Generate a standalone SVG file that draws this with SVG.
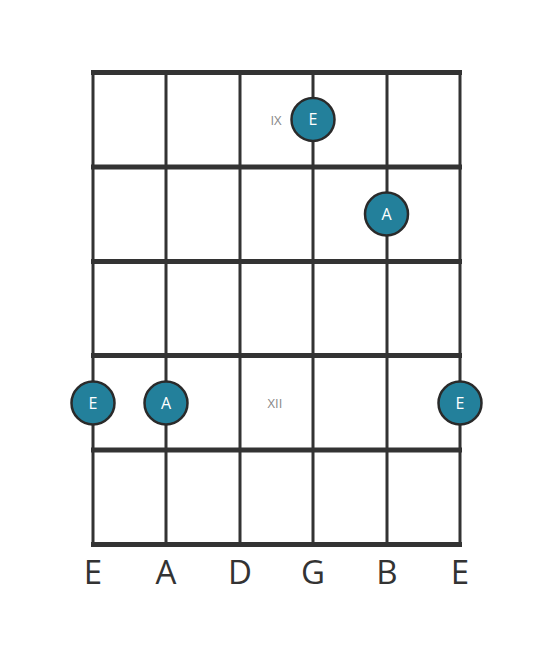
<svg xmlns="http://www.w3.org/2000/svg" width="553" height="656" viewBox="0 0 553 656">
<style>
.fret{stroke:#333;stroke-width:5}
.str{stroke:#333;stroke-width:3}
.dot{fill:#23809b;stroke:#2a2a2a;stroke-width:2.5}
.nl{font-family:"Open Sans",sans-serif;font-size:16px;fill:#ffffff;text-anchor:middle}
.fl{font-family:"Open Sans",sans-serif;font-size:13px;fill:#888;text-anchor:middle}
.sl{font-family:"Open Sans",sans-serif;font-size:33px;fill:#333;text-anchor:middle}
</style>
<rect width="553" height="656" fill="#fff"/>
<g id="connectors">
<line class="str" x1="93" y1="72" x2="93" y2="545"/>
<line class="str" x1="166" y1="72" x2="166" y2="545"/>
<line class="str" x1="240" y1="72" x2="240" y2="545"/>
<line class="str" x1="313" y1="72" x2="313" y2="545"/>
<line class="str" x1="387" y1="72" x2="387" y2="545"/>
<line class="str" x1="460" y1="72" x2="460" y2="545"/>
<line class="fret" x1="91" y1="72.5" x2="462" y2="72.5"/>
<line class="fret" x1="91" y1="167" x2="462" y2="167"/>
<line class="fret" x1="91" y1="261.5" x2="462" y2="261.5"/>
<line class="fret" x1="91" y1="355.5" x2="462" y2="355.5"/>
<line class="fret" x1="91" y1="450" x2="462" y2="450"/>
<line class="fret" x1="91" y1="544.5" x2="462" y2="544.5"/>
</g>
<g id="fret-labels">
<text class="fl" x="276" y="125">IX</text>
<text class="fl" x="275" y="408">XII</text>
</g>
<g id="note-E-g"><circle class="dot" cx="313" cy="119.5" r="21.5"/><text class="nl" x="313" y="125.3">E</text></g>
<g id="note-A-b"><circle class="dot" cx="386.5" cy="214" r="21.5"/><text class="nl" x="386.5" y="219.8">A</text></g>
<g id="note-E-low"><circle class="dot" cx="93" cy="403" r="21.5"/><text class="nl" x="93" y="408.8">E</text></g>
<g id="note-A-a"><circle class="dot" cx="166" cy="403" r="21.5"/><text class="nl" x="166" y="408.8">A</text></g>
<g id="note-E-high"><circle class="dot" cx="460" cy="403" r="21.5"/><text class="nl" x="460" y="408.8">E</text></g>
<g id="string-labels">
<text class="sl" x="93" y="584">E</text>
<text class="sl" x="166" y="584">A</text>
<text class="sl" x="240" y="584">D</text>
<text class="sl" x="313" y="584">G</text>
<text class="sl" x="387" y="584">B</text>
<text class="sl" x="460" y="584">E</text>
</g>
</svg>
